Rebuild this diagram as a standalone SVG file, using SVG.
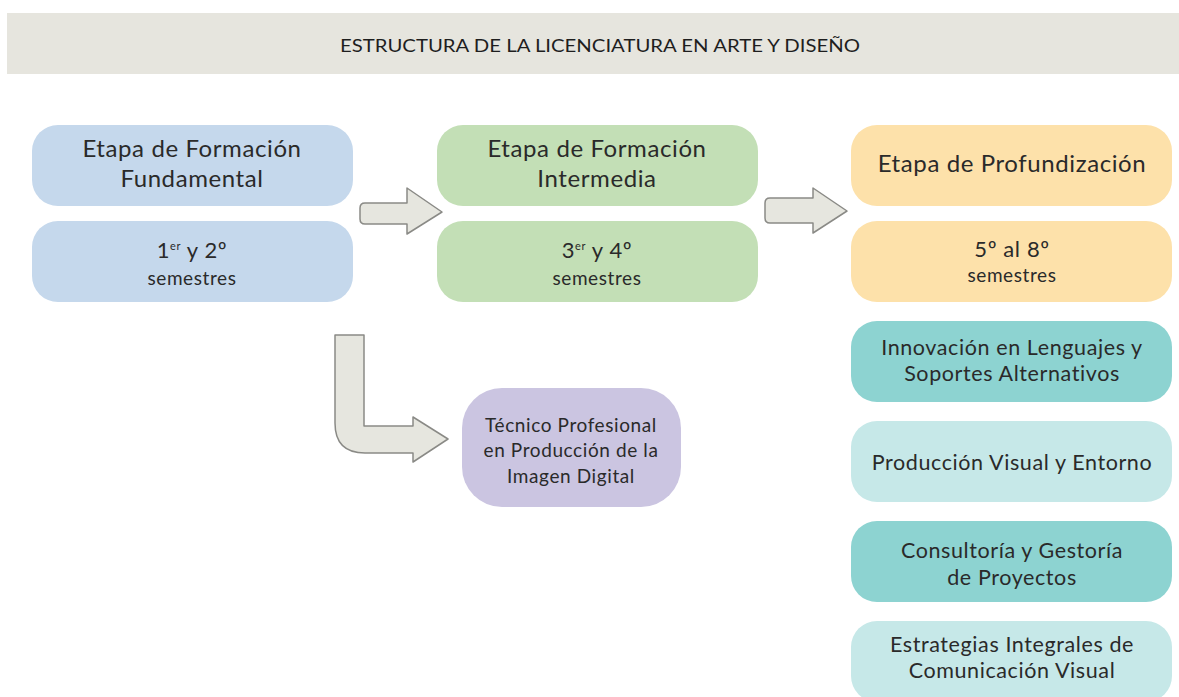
<svg xmlns="http://www.w3.org/2000/svg" width="1179" height="697" viewBox="0 0 1179 697">
<style>
.t{font-family:Lato,"Liberation Sans",sans-serif;font-weight:400;fill:#2a2a2a;text-anchor:middle;letter-spacing:0.6px}
.big{font-size:24px}
.mid{font-size:21.5px}
.sm{font-size:19px}
.arr{fill:#e6e6df;stroke:#8a8a86;stroke-width:1.5;stroke-linejoin:round}
</style>
<rect x="7" y="13" width="1172" height="61" fill="#e6e5de"/>
<text x="600" y="52" class="t" style="font-size:17px;letter-spacing:0;fill:#1e1e1e" textLength="520" lengthAdjust="spacingAndGlyphs">ESTRUCTURA DE LA LICENCIATURA EN ARTE Y DISEÑO</text>
<g id="connectors">
<path class="arr" d="M365,203 H407 V188 L442,212 L407,234 V224 H365 Q360,224 360,219 V208 Q360,203 365,203 Z"/>
<path class="arr" d="M770,198 H813 V188 L847,211 L813,233 V223 H770 Q765,223 765,218 V203 Q765,198 770,198 Z"/>
<path class="arr" d="M335,335 H364 V426 H413 V417 L448,439 L413,462 V453 H365 Q335,453 335,423 Z"/>
</g>
<g id="fund"><rect x="32" y="125" width="321" height="81" rx="26" fill="#c5d8ec"/>
<text class="t big" x="192" y="157">Etapa de Formación</text><text class="t big" x="192" y="187">Fundamental</text></g>
<g id="fund-sem"><rect x="32" y="221" width="321" height="81" rx="26" fill="#c5d8ec"/>
<text class="t mid" x="192" y="258" style="font-size:22px">1<tspan font-size="11" dy="-8">er</tspan><tspan dy="8"> y 2º</tspan></text><text class="t sm" x="192" y="285">semestres</text></g>
<g id="inter"><rect x="437" y="125" width="321" height="81" rx="26" fill="#c3dfb6"/>
<text class="t big" x="597" y="157">Etapa de Formación</text><text class="t big" x="597" y="187">Intermedia</text></g>
<g id="inter-sem"><rect x="437" y="221" width="321" height="81" rx="26" fill="#c3dfb6"/>
<text class="t mid" x="597" y="258" style="font-size:22px">3<tspan font-size="11" dy="-8">er</tspan><tspan dy="8"> y 4º</tspan></text><text class="t sm" x="597" y="285">semestres</text></g>
<g id="prof"><rect x="851" y="125" width="321" height="81" rx="26" fill="#fde1aa"/>
<text class="t big" x="1012" y="172">Etapa de Profundización</text></g>
<g id="prof-sem"><rect x="851" y="221" width="321" height="81" rx="26" fill="#fde1aa"/>
<text class="t mid" x="1012" y="257" style="font-size:22px">5º al 8º</text><text class="t sm" x="1012" y="282">semestres</text></g>
<g id="tecnico"><rect x="462" y="388" width="219" height="119" rx="40" fill="#cbc5e1"/>
<text class="t sm" x="571" y="432">Técnico Profesional</text><text class="t sm" x="571" y="457">en Producción de la</text><text class="t sm" x="571" y="483">Imagen Digital</text></g>
<g id="innov"><rect x="851" y="321" width="321" height="81" rx="26" fill="#8dd3d1"/>
<text class="t mid" x="1012" y="355">Innovación en Lenguajes y</text><text class="t mid" x="1012" y="381">Soportes Alternativos</text></g>
<g id="prodvis"><rect x="851" y="421" width="321" height="81" rx="26" fill="#c6e8e8"/>
<text class="t mid" x="1012" y="470">Producción Visual y Entorno</text></g>
<g id="consult"><rect x="851" y="521" width="321" height="81" rx="26" fill="#8dd3d1"/>
<text class="t mid" x="1012" y="558">Consultoría y Gestoría</text><text class="t mid" x="1012" y="585">de Proyectos</text></g>
<g id="estrat"><rect x="851" y="621" width="321" height="81" rx="26" fill="#c6e8e8"/>
<text class="t mid" x="1012" y="652">Estrategias Integrales de</text><text class="t mid" x="1012" y="678">Comunicación Visual</text></g>
</svg>
